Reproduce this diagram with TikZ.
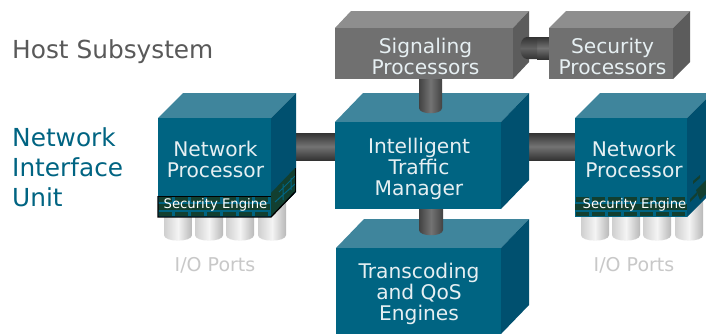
\documentclass[tikz,border=0pt]{standalone}
\usepackage{fontspec}
\setmainfont{DejaVu Sans}
\usetikzlibrary{calc}
\definecolor{tfront}{HTML}{006482}
\definecolor{ttop}{HTML}{3F859C}
\definecolor{tside}{HTML}{00506F}
\definecolor{gfront}{HTML}{707070}
\definecolor{gtop}{HTML}{8E8E8E}
\definecolor{gside}{HTML}{5C5C5C}
\definecolor{brick}{HTML}{123F30}
\definecolor{boxtext}{HTML}{E6EFF2}
\definecolor{iotext}{HTML}{C8C8C8}
\definecolor{cyldark}{HTML}{333333}
\definecolor{cyllight}{HTML}{737373}
\definecolor{portl}{HTML}{CFCFCF}
\definecolor{portm}{HTML}{F4F4F4}
\definecolor{portr}{HTML}{B8B8B8}
\tikzset{
  x=1pt,y=-1pt,
  hcyl/.style={top color=cyldark,bottom color=cyldark,middle color=cyllight},
  vcyl/.style={left color=cyldark!80!gray,right color=cyldark!80!gray,middle color=cyllight},
  port/.style={left color=portl,right color=portr,middle color=portm},
  boxlabel/.style={text=boxtext,align=center,font=\fontsize{20.2}{21}\selectfont,inner sep=0pt},
  enginelabel/.style={text=white,font=\fontsize{13.2}{14}\selectfont,inner sep=0pt},
  iolabel/.style={text=iotext,font=\fontsize{19}{20}\selectfont,inner sep=0pt},
  sidelabel/.style={align=left,anchor=west,inner sep=0pt,font=\fontsize{24.8}{30}\selectfont},
  frontface/.style={inner sep=0pt,outer sep=0pt,rectangle},
}
% name, x1,y1,x2,y2, dx, dy, palette prefix (t or g)
\newcommand{\cubebox}[8]{%
  \fill[#8top] (#2,#3) -- ++(#6,-#7) -- ({#4+#6},{#3-#7}) -- (#4,#3) -- cycle;
  \fill[#8side] (#4,#3) -- ({#4+#6},{#3-#7}) -- ({#4+#6},{#5-#7}) -- (#4,#5) -- cycle;
  \node[frontface,fill=#8front,minimum width={(#4-#2)*1pt},minimum height={(#5-#3)*1pt}] (#1) at ({(#2+#4)/2},{(#3+#5)/2}) {};
}
\newcommand{\portset}[1]{%
  \foreach \px in {0,31,62,94}{
    \shade[port] ({#1+\px},200) -- ({#1+\px+28},200) -- ({#1+\px+28},235)
      .. controls ({#1+\px+28},242.5) and ({#1+\px},242.5) .. ({#1+\px},235) -- cycle;
  }
}
\newcommand{\bricks}[1]{%
  \fill[brick] (#1,203.5) rectangle ({#1+112},210);
  \foreach \bx in {0,16,32,48,64,80,96}{
    \fill[brick] ({#1+\bx+1},197) rectangle ({#1+\bx+14},201.5);
    \fill[brick] ({#1+\bx+1},212) rectangle ({#1+\bx+14},216);
  }
}
\begin{document}
\begin{tikzpicture}
\useasboundingbox (0,0) rectangle (706,333);
\clip (0,0) rectangle (706,333);
\fill[white] (0,0) rectangle (706,333);

% side labels
\node[sidelabel,text=black!65] (host) at (12,52) {Host Subsystem};
\node[sidelabel,text=tfront,anchor=north west] (niu) at (12,127.5) {Network\\Interface\\Unit};

% ports
\portset{164}
\portset{581}

% horizontal connectors, behind the boxes
\coordinate (lna) at (290,133); \coordinate (lnb) at (340,160);
\coordinate (rna) at (525,133); \coordinate (rnb) at (580,160);
\shade[hcyl] (lna) rectangle (lnb);
\shade[hcyl] (rna) rectangle (rnb);

% boxes
\cubebox{npl}{158}{118}{271}{217}{25}{25}{t}
\cubebox{npr}{575}{118}{687}{217}{25}{25}{t}
\cubebox{itm}{335}{122}{501}{209}{28}{29}{t}
\cubebox{tqe}{336}{248}{501}{334}{28}{29}{t}
\cubebox{sig}{335}{28}{513}{79}{16}{17}{g}

% vertical connectors on the top faces
\shade[vcyl] (419,79) -- (442,79) -- (442,108) .. controls (442,115) and (419,115) .. (419,108) -- cycle;
\shade[vcyl] (419,209) -- (443,209) -- (443,230) .. controls (443,237) and (419,237) .. (419,230) -- cycle;

% signaling -- security connector
\shade[hcyl] (537,37) -- (550,37) -- (550,59) -- (537,59) -- cycle;
\shade[top color=cyldark,bottom color=cyldark,middle color=cyllight!85!black] (537,37) -- (537,59) -- (527,59) .. controls (518,59) and (518,37) .. (527,37) -- cycle;
\cubebox{sec}{549}{28}{673}{79}{17}{17}{g}

% security engine on the left processor
\bricks{158}
\fill[brick] (271,217) -- (295,192) -- (295,168) -- (271,193) -- cycle;
\draw[tfront,line width=1pt] (279,192) -- (295,176) (275,202) -- (295,184)
  (283,184) -- (283,200) (291,178) -- (291,190);
\draw[black,line width=1.3pt] (158,196) -- (158,217) -- (271,217) -- (295,192);
\draw[black,line width=.5pt] (158,196) -- (271,196);
\draw[black,line width=.8pt] (295,192) -- (295,168);

% security engine on the right processor
\bricks{575}
\fill[brick] (690,199) -- (697,192) -- (697,195) -- (690,202) -- cycle;
\fill[brick] (693,181) -- (700,175) -- (700,178) -- (693,184) -- cycle;
\fill[brick] (700,200) -- (706,194) -- (706,180) -- (696,190) -- cycle;

% labels
\node[boxlabel] (t1) at (425.5,56.5) {Signaling\\Processors};
\node[boxlabel] (t2) at (612.5,56) {Security\\Processors};
\node[boxlabel] (t3) at (215.5,159) {Network\\Processor};
\node[boxlabel] (t4) at (634,159) {Network\\Processor};
\node[boxlabel] (t5) at (419,169) {Intelligent\\Traffic\\Manager};
\node[boxlabel] (t6) at (419,294) {Transcoding\\and QoS\\Engines};
\node[enginelabel] (e1) at (215.5,205) {Security Engine};
\node[enginelabel] (e2) at (634.5,205) {Security Engine};
\node[iolabel] (io1) at (215,265) {I/O Ports};
\node[iolabel] (io2) at (634,265) {I/O Ports};
\end{tikzpicture}
\end{document}
